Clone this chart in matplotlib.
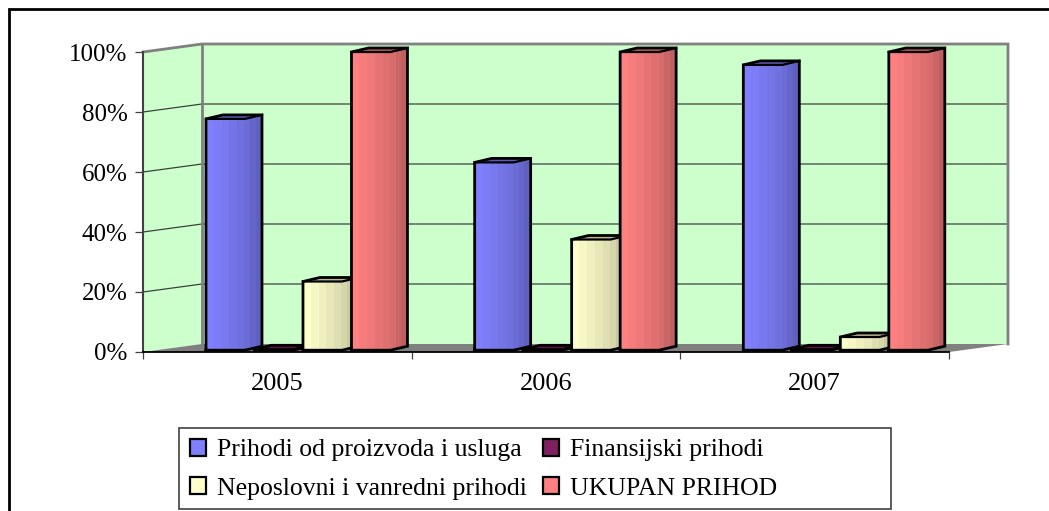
import matplotlib
matplotlib.use("Agg")
import matplotlib.pyplot as plt
from matplotlib.lines import Line2D
from matplotlib.patches import Patch, Rectangle
from matplotlib.colors import to_rgb

godine = ["2005", "2006", "2007"]
serije = ["Prihodi od proizvoda i usluga", "Finansijski prihodi",
          "Neposlovni i vanredni prihodi", "UKUPAN PRIHOD"]
boje = ["#8080FF", "#802060", "#FFFFCC", "#FF8080"]

prihodi_usluge = [77.7, 63.2, 95.7]
finansijski = [0.3, 0.3, 0.8]
neposlovni = [23.5, 37.5, 5.0]
ukupno = [100, 100, 100]
vrednosti = [prihodi_usluge, finansijski, neposlovni, ukupno]

procenti = [0, 20, 40, 60, 80, 100]

plt.rcParams["font.family"] = ["Liberation Serif", "DejaVu Serif"]

W, H = 1049, 511
fig = plt.figure(figsize=(W / 100, H / 100), dpi=100)
ax = fig.add_axes([143 / W, 1 - 352 / H, 806 / W, 300 / H])
ax.set_xlim(0, 3)
ax.set_ylim(0, 100)
ax.patch.set_visible(False)

# dubina "3D" prikaza, u jedinicama osa
DX = 59 / 268.7
DY = 8 / 3
BAR_DX = 17 / 268.7
BAR_DY = 4 / 3
BAR_W = 39 / 268.7
KORAK = 48.5 / 268.7
POCETAK = 63 / 268.7
BAZA = 0.6

SIVA = "#808080"
ZID = "#CCFFCC"

# zidovi i pod
ax.fill([0, DX, DX, 0], [0, DY, 100 + DY, 100], color=ZID, lw=0, zorder=1, clip_on=False)
ax.fill([DX, 3 + DX, 3 + DX, DX], [DY, DY, 100 + DY, 100 + DY], color=ZID, lw=0, zorder=1, clip_on=False)
ax.fill([0, DX, 3 + DX, 3], [0, DY, DY, 0], color=SIVA, lw=0, zorder=1.5, clip_on=False)

for p in procenti[1:-1]:
    ax.plot([0, DX, 3 + DX], [p, p + DY, p + DY], color="#404040", lw=0.9, zorder=2, clip_on=False)
ax.plot([0, DX, 3 + DX, 3 + DX], [100, 100 + DY, 100 + DY, DY], color=SIVA, lw=2, zorder=2,
        clip_on=False, solid_joinstyle="miter")
ax.plot([DX, DX], [DY, 100 + DY], color=SIVA, lw=2, zorder=2, clip_on=False)


def nijansa(boja, f):
    return tuple(c * f for c in to_rgb(boja))


def stubic(x0, v, boja, z):
    x1 = x0 + BAR_W
    n_front, n_side = 5, 3
    vrh = max(v, BAZA + 0.3)
    for i in range(n_front):
        a = x0 + BAR_W * i / n_front
        b = x0 + BAR_W * (i + 1) / n_front
        ax.fill([a, b, b, a], [BAZA, BAZA, vrh, vrh], color=nijansa(boja, 1 - 0.16 * i / n_front),
                lw=0, zorder=z, clip_on=False, antialiased=False)
    for i in range(n_side):
        a = BAR_DX * i / n_side
        b = BAR_DX * (i + 1) / n_side
        ya, yb = BAR_DY * i / n_side, BAR_DY * (i + 1) / n_side
        ax.fill([x1 + a, x1 + b, x1 + b, x1 + a], [BAZA + ya, BAZA + yb, vrh + yb, vrh + ya],
                color=nijansa(boja, 0.84 - 0.14 * i / n_side), lw=0, zorder=z, clip_on=False,
                antialiased=False)
    ax.fill([x0, x1, x1 + BAR_DX, x0 + BAR_DX], [vrh, vrh, vrh + BAR_DY, vrh + BAR_DY],
            color=nijansa(boja, 0.72), lw=0, zorder=z, clip_on=False)
    # obris
    ax.plot([x0, x1, x1 + BAR_DX, x1 + BAR_DX, x0 + BAR_DX, x0, x0],
            [BAZA, BAZA, BAZA + BAR_DY, vrh + BAR_DY, vrh + BAR_DY, vrh, BAZA],
            color="black", lw=2, zorder=z, clip_on=False, solid_joinstyle="miter")
    ax.plot([x0, x1, x1 + BAR_DX], [vrh, vrh, vrh + BAR_DY], color="black", lw=1.6, zorder=z,
            clip_on=False)


for g in range(len(godine)):
    for s in range(len(serije)):
        stubic(g + POCETAK + s * KORAK, vrednosti[s][g], boje[s], 3 + g + s * 0.1)

# ose
for strana in ["top", "right"]:
    ax.spines[strana].set_visible(False)
ax.spines["left"].set_color("#404040")
ax.spines["left"].set_linewidth(1.5)
ax.spines["bottom"].set_color("black")
ax.spines["bottom"].set_linewidth(1.3)
ax.spines["bottom"].set_zorder(10)

ax.set_yticks(procenti)
ax.set_yticklabels([f"{p}%" for p in procenti], fontsize=18)
ax.tick_params(axis="y", length=6, width=0.9, color="#404040", pad=5)
ax.set_xticks(range(len(godine) + 1))
ax.set_xticklabels([])
ax.tick_params(axis="x", which="major", length=5, width=0.9, color="#404040")
ax.set_xticks([i + 0.5 for i in range(len(godine))], minor=True)
ax.set_xticklabels(godine, minor=True, fontsize=19)
ax.tick_params(axis="x", which="minor", length=0, pad=15)

# okvir slike, bez desne i donje ivice
fig.add_artist(Line2D([9 / W, 9 / W, 1], [0, 1 - 9.5 / H, 1 - 9.5 / H], color="black", lw=2,
                      solid_joinstyle="miter"))

# legenda, okvir je sirji od teksta pa ide posebno
fig.add_artist(Rectangle((179 / W, 1 - 509 / H), 712 / W, 81 / H, transform=fig.transFigure,
                         facecolor="white", edgecolor="#404040", lw=1.2))
red = [0, 2, 1, 3]
ruke = [Patch(facecolor=boje[i], edgecolor="black", lw=1.6, label=serije[i]) for i in red]
leg = fig.legend(handles=ruke, loc="upper left", bbox_to_anchor=(190 / W, 1 - 439 / H), ncols=2,
                 fontsize=18.5, frameon=False, borderaxespad=0, borderpad=0, handlelength=0.62,
                 handleheight=0.62, handletextpad=0.45, labelspacing=0.62, columnspacing=0.6)
leg.set_zorder(5)

fig.savefig("out.png", dpi=100)
